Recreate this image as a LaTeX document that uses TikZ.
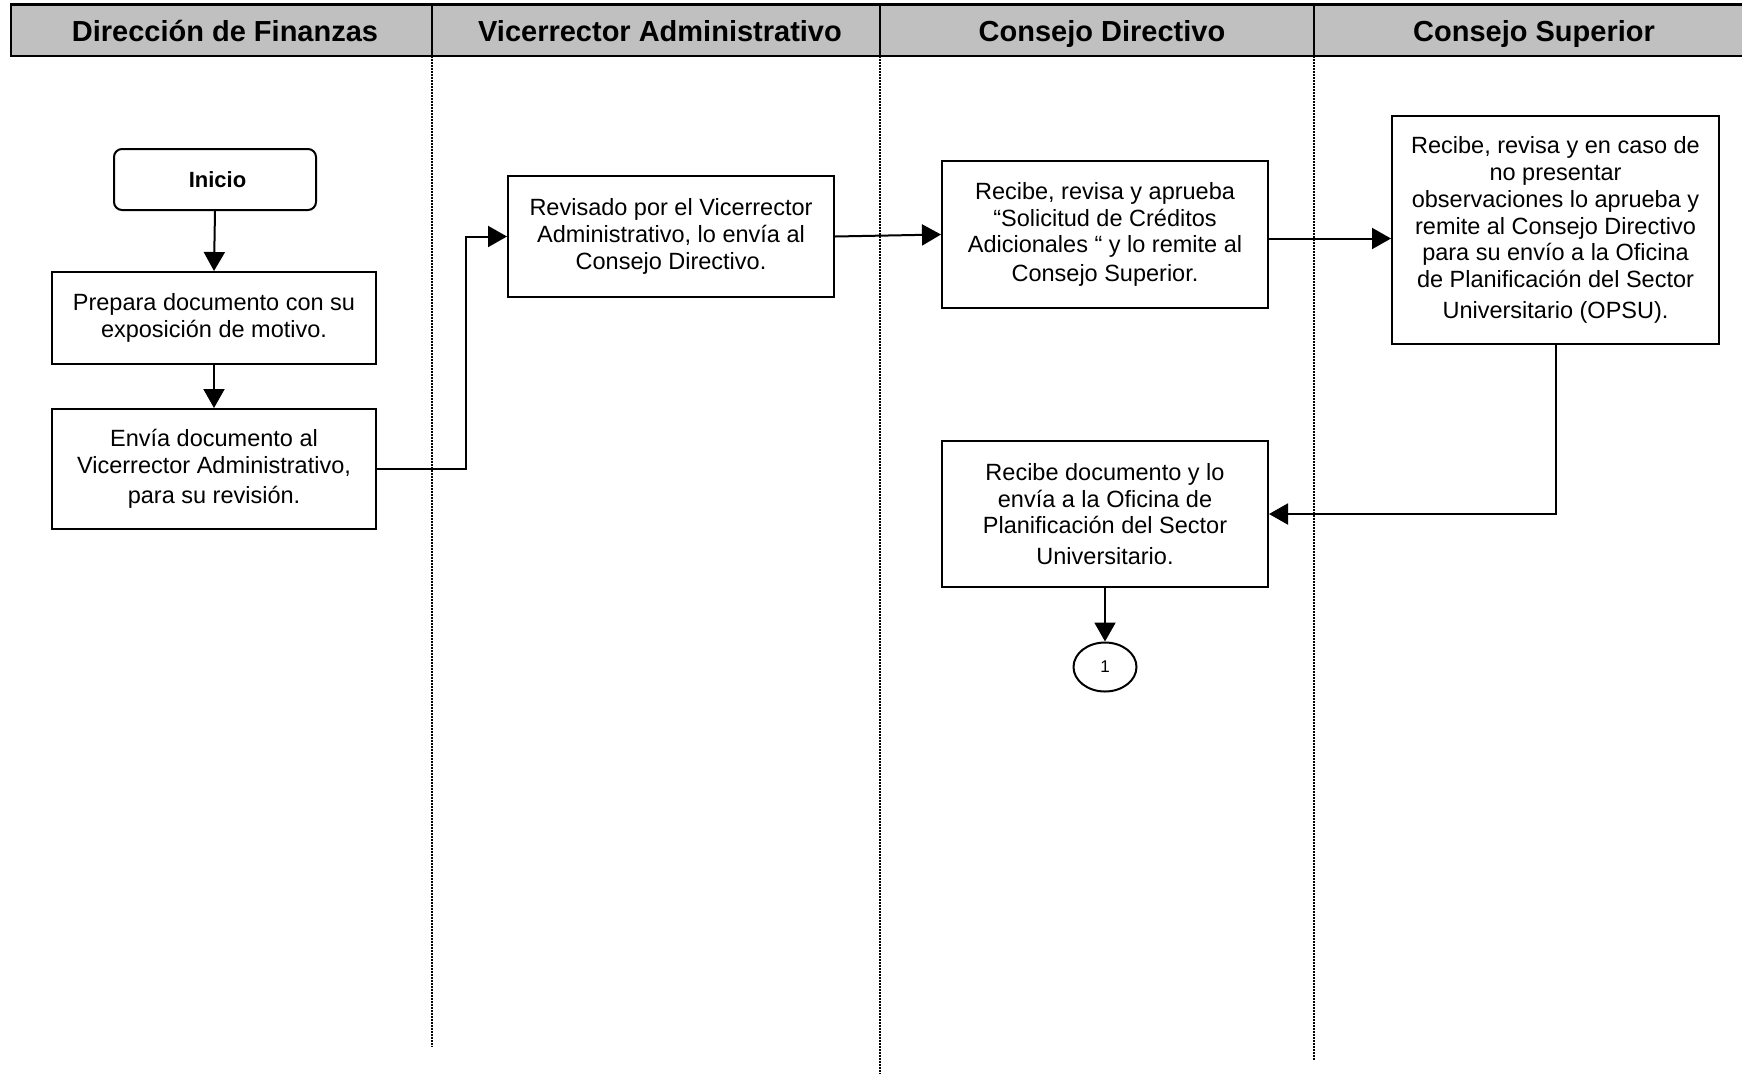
\documentclass[tikz,border=0pt]{standalone}
\usepackage{fontspec}
\setmainfont{Liberation Sans}
\usetikzlibrary{arrows.meta,shapes.geometric}
\definecolor{headgray}{RGB}{192,192,192}

\begin{document}
\begin{tikzpicture}[x=1pt,y=-1pt,
  stepbox/.style={draw,line width=2pt,align=center,inner sep=0pt,
    font=\fontsize{23.5}{26.7}\selectfont},
  flow/.style={line width=2pt,-{Triangle[length=19pt,width=21pt]}},
  lane/.style={line width=1.1pt,dash pattern=on 1.5pt off 1.5pt},
  headtext/.style={anchor=base,font=\fontsize{29}{32}\selectfont\bfseries}]

\useasboundingbox (0,0) rectangle (1742,1074);

% header band with the four lanes
\fill[headgray] (11,4.5) rectangle (1742,56);
\draw[line width=2.2pt] (1742,4.5) -- (11,4.5) -- (11,56) -- (1742,56);
\foreach \x in {432,880,1314}
  \draw[line width=1.6pt] (\x,4.5) -- (\x,56);

\node[headtext] (h1) at (225,41.5) {Dirección de Finanzas};
\node[headtext] (h2) at (660,41.5) {Vicerrector Administrativo};
\node[headtext] (h3) at (1102,41.5) {Consejo Directivo};
\node[headtext] (h4) at (1534,41.5) {Consejo Superior};

% lane separators
\draw[lane] (432,56) -- (432,1047);
\draw[lane] (880,56) -- (880,1074);
\draw[lane] (1314,56) -- (1314,1061);

% process steps
\node[stepbox,rounded corners=8pt,minimum width=202pt,minimum height=61pt,
  font=\fontsize{22}{26}\selectfont\bfseries] (inicio) at (215,179.5) {\hspace*{5pt}Inicio};

\node[stepbox,minimum width=324pt,minimum height=92pt] (prepara) at (214,318)
  {Prepara documento con su\\exposición de motivo.};

\node[stepbox,minimum width=324pt,minimum height=120pt] (envia) at (214,469)
  {Envía documento al\\Vicerrector Administrativo,\\[4pt]para su revisión.};

\node[stepbox,minimum width=326pt,minimum height=121pt] (revisado) at (671,236.5)
  {Revisado por el Vicerrector\\Administrativo, lo envía al\\Consejo Directivo.};

\node[stepbox,minimum width=326pt,minimum height=147pt] (aprueba) at (1105,234.5)
  {Recibe, revisa y aprueba\\“Solicitud de Créditos\\Adicionales “ y lo remite al\\[2pt]Consejo Superior.};

\node[stepbox,minimum width=327pt,minimum height=228pt] (superior) at (1555.5,230)
  {Recibe, revisa y en caso de\\no presentar\\observaciones lo aprueba y\\remite al Consejo Directivo\\para su envío a la Oficina\\de Planificación del Sector\\[4pt]Universitario (OPSU).};

\node[stepbox,minimum width=326pt,minimum height=146pt] (recibedoc) at (1105,514)
  {Recibe documento y lo\\envía a la Oficina de\\Planificación del Sector\\[4pt]Universitario.};

\node[draw,ellipse,line width=2pt,minimum width=63pt,minimum height=49pt,inner sep=0pt,
  font=\fontsize{17}{19}\selectfont] (conn) at (1105,667) {\raisebox{-3pt}{1}};

% connectors
\draw[flow] (inicio.south) -- (prepara.north);
\draw[flow] (prepara.south) -- (envia.north);
\draw[flow] (envia.east) -- ++(89,0) |- (revisado.west);
\draw[flow] (revisado.east) -- (aprueba.west);
\draw[flow] ([yshift=-4pt]aprueba.east) -- ([yshift=-4pt]aprueba.east -| superior.west);
\draw[flow] (superior.south) |- (recibedoc.east);
\draw[flow] (recibedoc.south) -- (conn.north);

\end{tikzpicture}
\end{document}
